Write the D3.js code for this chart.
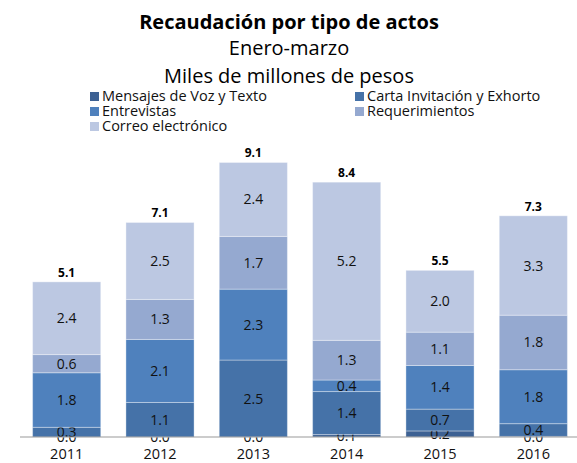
<!DOCTYPE html>
<html>
<head>
    <meta charset="utf-8">
    <title>Recaudación por tipo de actos</title>
    <script src="https://d3js.org/d3.v7.min.js"></script>
    <style>
        body { margin: 0; background: #fff; }
        svg { font-family: "Open Sans", sans-serif; }
    </style>
</head>
<body>
    <svg id="chart"></svg>
    <script>
        const width = 577;
        const height = 463;

        // categories and series (miles de millones de pesos)
        const years = ["2011", "2012", "2013", "2014", "2015", "2016"];
        const seriesNames = ["Mensajes de Voz y Texto", "Carta Invitación y Exhorto", "Entrevistas", "Requerimientos", "Correo electrónico"];
        const mensajes = [0.0, 0.0, 0.0, 0.08, 0.20, 0.02];
        const carta = [0.32, 1.14, 2.54, 1.42, 0.72, 0.42];
        const entrevistas = [1.80, 2.08, 2.34, 0.38, 1.44, 1.78];
        const requerimientos = [0.60, 1.32, 1.74, 1.31, 1.10, 1.80];
        const correo = [2.40, 2.54, 2.44, 5.22, 2.04, 3.28];
        const colors = ["#3d6193", "#4572a8", "#4f81bd", "#95a9d0", "#bcc8e2"];

        const seriesValues = [mensajes, carta, entrevistas, requerimientos, correo];
        const keys = d3.range(seriesNames.length);
        const rows = years.map((y, i) => {
            const r = { year: y };
            keys.forEach(k => r[k] = seriesValues[k][i]);
            return r;
        });

        const svg = d3.select("#chart")
            .attr("width", width)
            .attr("height", height);

        // titles
        const titles = [
            { t: "Recaudación por tipo de actos", y: 29, w: "bold" },
            { t: "Enero-marzo", y: 55, w: "normal" },
            { t: "Miles de millones de pesos", y: 83, w: "normal" }
        ];
        svg.selectAll(".title")
            .data(titles)
            .enter().append("text")
            .attr("class", "title")
            .attr("x", 289)
            .attr("y", d => d.y)
            .attr("text-anchor", "middle")
            .style("font-size", "20px")
            .style("font-weight", d => d.w)
            .style("fill", "#000")
            .text(d => d.t);

        // legend
        const legendPos = [[90, 101], [355, 101], [90, 116], [355, 116], [90, 131]];
        const legend = svg.selectAll(".legend")
            .data(keys)
            .enter().append("g")
            .attr("class", "legend")
            .attr("transform", k => `translate(${legendPos[k][0]},${legendPos[k][1]})`);
        legend.append("rect")
            .attr("x", 0).attr("y", -9)
            .attr("width", 9).attr("height", 9)
            .attr("fill", k => colors[k]);
        legend.append("text")
            .attr("x", 12)
            .attr("y", 0)
            .style("font-size", "14.5px")
            .style("fill", "#111")
            .text(k => seriesNames[k]);

        const x = d3.scaleBand()
            .domain(years)
            .range([20, 580])
            .paddingInner(0.27)
            .paddingOuter(0.135);

        const y = d3.scaleLinear()
            .domain([0, 10])
            .range([437, 134]);

        const stacked = d3.stack().keys(keys)(rows);

        const layers = svg.selectAll(".layer")
            .data(stacked)
            .enter().append("g")
            .attr("class", "layer")
            .attr("fill", d => colors[d.key]);

        layers.selectAll("rect")
            .data(d => d)
            .enter().append("rect")
            .attr("x", d => x(d.data.year))
            .attr("y", d => y(d[1]))
            .attr("width", x.bandwidth())
            .attr("height", d => y(d[0]) - y(d[1]))
            .attr("stroke", "#ffffff")
            .attr("stroke-opacity", 0.35)
            .attr("stroke-width", 1);

        // segment labels
        layers.selectAll(".val")
            .data(d => d)
            .enter().append("text")
            .attr("class", "val")
            .attr("x", d => x(d.data.year) + x.bandwidth() / 2)
            .attr("y", d => (y(d[0]) + y(d[1])) / 2 + 5)
            .attr("text-anchor", "middle")
            .style("font-size", "14px")
            .style("fill", "#111")
            .text(d => d3.format(".1f")(d[1] - d[0]));

        // x axis
        const xAxis = svg.append("g")
            .attr("transform", "translate(0,437)")
            .call(d3.axisBottom(x).tickSize(0).tickPadding(12));
        xAxis.select(".domain").attr("d", "M20,0H577").attr("stroke", "#999");
        xAxis.selectAll("text")
            .style("font-size", "14.5px")
            .style("font-family", "Open Sans, sans-serif")
            .style("fill", "#111");

        // totals
        svg.selectAll(".total")
            .data(rows)
            .enter().append("text")
            .attr("class", "total")
            .attr("x", d => x(d.year) + x.bandwidth() / 2)
            .attr("y", d => y(d3.sum(keys, k => d[k])) - 5)
            .attr("text-anchor", "middle")
            .style("font-size", "12px")
            .style("font-weight", "bold")
            .style("fill", "#000")
            .text(d => d3.format(".1f")(d3.sum(keys, k => d[k])));
    </script>
</body>
</html>
